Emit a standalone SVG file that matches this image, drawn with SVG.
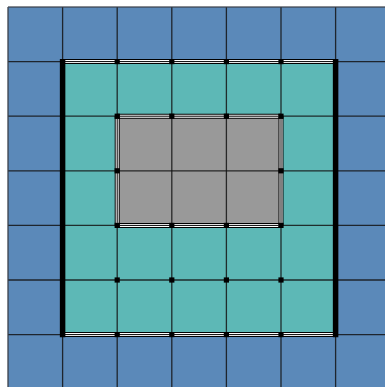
<svg xmlns="http://www.w3.org/2000/svg" width="385" height="387" viewBox="0 0 385 387">
<style>
.blue{fill:#5b89b9}
.teal{fill:#5db8b6}
.gray{fill:#999999}
.grid{stroke:#141414;stroke-width:1.3;stroke-opacity:0.85;fill:none}
.edge{stroke:#3a3f48;stroke-width:1.6;stroke-opacity:0.8;fill:none}
.s1{stroke:#000;stroke-width:5;fill:none}
.s2{stroke:#fff;stroke-width:3;fill:none}
.s3{stroke:#000;stroke-width:1;fill:none}
.thick{stroke:#000;stroke-width:5.5;fill:none}
.sq{fill:#000}
</style>
<defs>
<rect id="q" x="-2.6" y="-2.6" width="5.2" height="5.2" class="sq"/>
</defs>
<rect x="0" y="0" width="385" height="387" fill="#ffffff"/>
<g id="fills">
<rect class="blue" x="8" y="7" width="377" height="380"/>
<rect class="teal" x="62.6" y="61.6" width="273" height="273"/>
<rect class="gray" x="117.2" y="116.2" width="163.8" height="109.2"/>
</g>
<g id="grid">
<path class="grid" d="M62.6 7V387M117.2 7V387M171.8 7V387M226.4 7V387M281 7V387M335.6 7V387"/>
<path class="grid" d="M8 61.6H385M8 116.2H385M8 170.8H385M8 225.4H385M8 280H385M8 334.6H385"/>
<path class="edge" d="M8 7V387M8 7H385"/>
</g>
<g id="borders">
<path class="s1" d="M62.6 61.6H335.6M62.6 334.6H335.6M117.2 116.2H281M117.2 225.4H281M117.2 116.2V225.4M281 116.2V225.4"/>
<path class="s2" d="M62.6 61.6H335.6M62.6 334.6H335.6M119.7 116.2H278.5M119.7 225.4H278.5M117.2 118.7V222.9M281 118.7V222.9"/>
<path class="s3" d="M62.6 61.6H335.6M62.6 334.6H335.6M119.7 116.2H278.5M119.7 225.4H278.5M117.2 118.7V222.9M281 118.7V222.9"/>
<path class="thick" d="M62.6 58.9V337.3M335.6 58.9V337.3"/>
</g>
<g id="markers">
<use href="#q" x="117.2" y="61.6"/><use href="#q" x="171.8" y="61.6"/><use href="#q" x="226.4" y="61.6"/><use href="#q" x="281" y="61.6"/>
<use href="#q" x="117.2" y="116.2"/><use href="#q" x="171.8" y="116.2"/><use href="#q" x="226.4" y="116.2"/><use href="#q" x="281" y="116.2"/>
<use href="#q" x="117.2" y="170.8"/><use href="#q" x="281" y="170.8"/>
<use href="#q" x="117.2" y="225.4"/><use href="#q" x="171.8" y="225.4"/><use href="#q" x="226.4" y="225.4"/><use href="#q" x="281" y="225.4"/>
<use href="#q" x="117.2" y="280"/><use href="#q" x="171.8" y="280"/><use href="#q" x="226.4" y="280"/><use href="#q" x="281" y="280"/>
<use href="#q" x="117.2" y="334.6"/><use href="#q" x="171.8" y="334.6"/><use href="#q" x="226.4" y="334.6"/><use href="#q" x="281" y="334.6"/>
</g>
</svg>
